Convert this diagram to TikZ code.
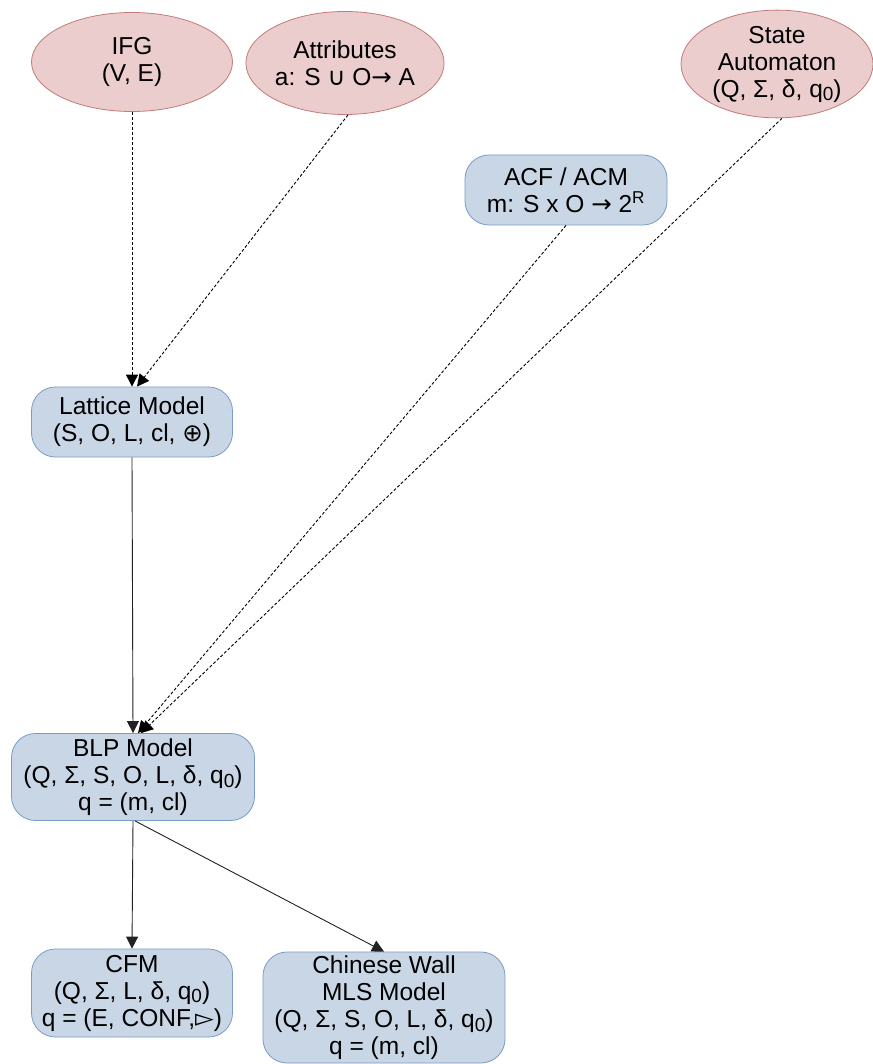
\documentclass[tikz,border=0pt]{standalone}
\usepackage{fontspec}
\setmainfont{Liberation Sans}
\newfontfamily\symfont{DejaVu Sans}
\usetikzlibrary{shapes.geometric,arrows.meta}
\definecolor{redfill}{HTML}{EBCDCD}
\definecolor{redline}{HTML}{C27B78}
\definecolor{bluefill}{HTML}{C9D6E5}
\definecolor{blueline}{HTML}{7A9BC6}
\definecolor{linkgray}{HTML}{222222}
\newcommand{\sub}[1]{\raisebox{-0.15em}{\fontsize{19}{20}\selectfont #1}}
\begin{document}
\begin{tikzpicture}[x=1pt,y=-1pt,
  every node/.style={font=\fontsize{24.5}{27}\selectfont, align=center, inner sep=0pt},
  oval/.style={ellipse, draw=redline, fill=redfill, line width=0.8pt},
  modelbox/.style={rectangle, rounded corners=24pt, draw=blueline, fill=bluefill, line width=0.8pt},
  link/.style={draw=linkgray, line width=0.9pt, -{Triangle[length=12pt,width=12pt]}},
  derive/.style={link, draw=black, dash pattern=on 3pt off 2pt}]
\fill[white] (0,0) rectangle (872,1064);
\useasboundingbox (0,0) rectangle (872,1064);

% source formalisms
\node[oval, minimum width=201, minimum height=99] (ifg) at (132,62) {IFG\\(V, E)};
\node[oval, minimum width=194, minimum height=103] (attr) at (345,63)
  {Attributes\\a: S {\symfont ∪} O{\symfont →} A};
\node[oval, minimum width=192, minimum height=104] (sa) at (777,64)
  {State\\Automaton\\(Q, Σ, δ, q\sub{0})};
\node[modelbox, minimum width=202, minimum height=70] (acf) at (566,190)
  {ACF / ACM\\m: S x O {\symfont →} 2\textsuperscript{R}};

% derived models
\node[modelbox, minimum width=201, minimum height=70] (lat) at (132,422)
  {Lattice Model\\(S, O, L, cl, {\symfont ⊕})};
\node[modelbox, minimum width=243, minimum height=87] (blp) at (133,777)
  {BLP Model\\(Q, Σ, S, O, L, δ, q\sub{0})\\q = (m, cl)};
\node[modelbox, minimum width=201, minimum height=88] (cfm) at (132,993)
  {CFM\\(Q, Σ, L, δ, q\sub{0})\\q = (E, CONF,{\symfont ▻})};
\node[modelbox, minimum width=242, minimum height=111] (cw) at (384,1007.5)
  {Chinese Wall\\MLS Model\\(Q, Σ, S, O, L, δ, q\sub{0})\\q = (m, cl)};

% connectors
\draw[derive] (ifg.south) -- (lat.north);
\draw[derive] ([xshift=3pt]attr.south) -- ([xshift=5pt]lat.north);
\draw[link] (lat.south) -- (blp.north);
\draw[derive] (acf.south) -- ([xshift=5pt]blp.north);
\draw[derive] ([xshift=5pt]sa.south) -- ([xshift=8pt]blp.north);
\draw[link] (blp.south) -- (cfm.north);
\draw[link] ([xshift=2pt]blp.south) -- (cw.north);
\end{tikzpicture}
\end{document}
